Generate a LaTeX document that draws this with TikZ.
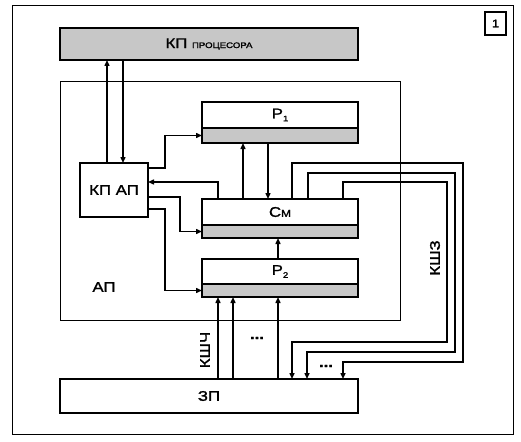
\documentclass[tikz,border=0pt]{standalone}
\usepackage{fontspec}
\setmainfont[FakeStretch=1.2,FakeBold=1.5]{Liberation Sans}
\usetikzlibrary{arrows.meta}
\begin{document}
\begin{tikzpicture}[x=1pt,y=-1pt,
  box/.style={draw, line width=2.2pt, inner sep=0pt, outer sep=0pt, minimum width=156pt, font=\fontsize{14}{14}\selectfont},
  strip/.style={box, fill=black!22},
  frame/.style={draw, line width=0.9pt, inner sep=0pt, outer sep=0pt},
  conn/.style={line width=1.4pt},
  arr/.style={conn, -{Triangle[length=6pt,width=5pt]}},
  lbl/.style={font=\fontsize{14}{14}\selectfont, inner sep=0pt},
  dots/.style={font=\bfseries\fontsize{14}{14}\selectfont, inner sep=0pt}
]
\useasboundingbox (0,0) rectangle (521,441);
\fill[white] (0,0) rectangle (521,441);

% frames
\node[frame, minimum width=501pt, minimum height=429pt] (outer) at (262.5,219.5) {};
\node[frame, minimum width=340pt, minimum height=239pt] (ap) at (230,200.5) {};
\node[frame, line width=1.2pt, minimum width=21pt, minimum height=23pt, font=\fontsize{11}{11}\selectfont] (num) at (495.5,23.5) {1};

% boxes
\node[box, fill=black!22, minimum width=298pt, minimum height=32pt] (kpp) at (209,44)
  {КП \fontsize{8}{8}\selectfont ПРОЦЕСОРА};
\node[box, minimum width=68pt, minimum height=54pt] (kpap) at (114,190) {КП АП};

\node[box, minimum height=26pt] (p1) at (280,115) {Р\raisebox{-3pt}{\fontsize{8}{8}\selectfont 1}};
\node[strip, minimum height=15pt] (p1s) at (280,135.5) {};

\node[box, minimum height=26pt] (cm) at (280,212) {С\fontsize{10}{10}\selectfont М};
\node[strip, minimum height=13pt] (cms) at (280,231.5) {};

\node[box, minimum height=25pt] (p2) at (280,271.5) {Р\raisebox{-3pt}{\fontsize{8}{8}\selectfont 2}};
\node[strip, minimum height=13pt] (p2s) at (280,290.5) {};

\node[box, minimum width=298pt, minimum height=34pt] (zp) at (209,396) {ЗП};

% labels
\node[lbl] (aplbl) at (104,287) {АП};
\node[lbl, rotate=90] (ksz) at (435,258) {КШЗ};
\node[lbl, rotate=90] (ksch) at (205,350) {КШЧ};
\node[dots] (d1) at (257,338) {...};
\node[dots] (d2) at (326,366) {...};

% connectors
\draw[arr] (107,0 |- kpap.north) -- (107,0 |- kpp.south);
\draw[arr] (123,0 |- kpp.south) -- (123,0 |- kpap.north);
\draw[arr] (kpap.east |- 0,168) -- (165,168) -- (165,0 |- p1s.west) -- (p1s.west);
\draw[arr] (218,0 |- cm.north) -- (218,182) -- (kpap.east |- 0,182);
\draw[arr] (kpap.east |- 0,197) -- (180,197) -- (180,0 |- cms.west) -- (cms.west);
\draw[arr] (kpap.east |- 0,209) -- (165,209) -- (165,0 |- p2s.west) -- (p2s.west);
\draw[arr] (243,0 |- cm.north) -- (243,0 |- p1s.south);
\draw[arr] (268,0 |- p1s.south) -- (268,0 |- cm.north);
\draw[arr] (278,0 |- p2.north) -- (278,0 |- cms.south);

% KSZ bus
\draw[arr] (292,0 |- cm.north) -- (292,163) -- (463,163) -- (463,362) -- (343,362) -- (343,0 |- zp.north);
\draw[arr] (308,0 |- cm.north) -- (308,173) -- (455,173) -- (455,352) -- (307,352) -- (307,0 |- zp.north);
\draw[arr] (343,0 |- cm.north) -- (343,182) -- (447,182) -- (447,342) -- (292,342) -- (292,0 |- zp.north);

% KSCh bus
\draw[arr] (218,0 |- zp.north) -- (218,0 |- p2s.south);
\draw[arr] (233,0 |- zp.north) -- (233,0 |- p2s.south);
\draw[arr] (278,0 |- zp.north) -- (278,0 |- p2s.south);
\end{tikzpicture}
\end{document}
